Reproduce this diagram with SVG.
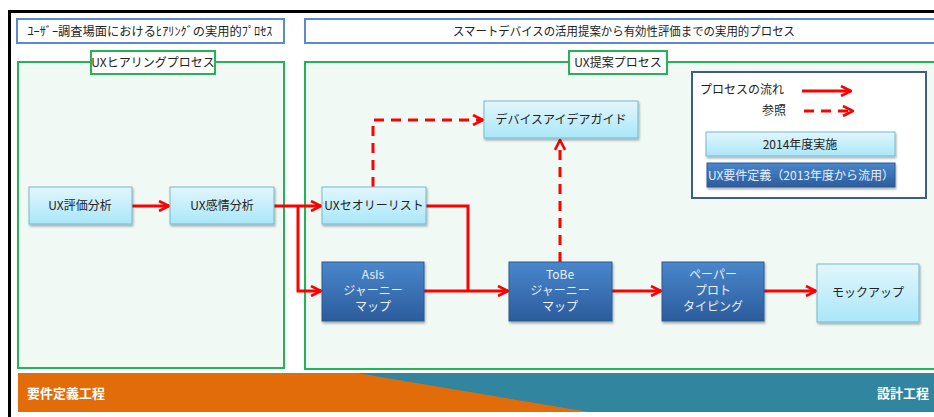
<svg xmlns="http://www.w3.org/2000/svg" width="934" height="417" viewBox="0 0 934 417">
<defs>
<linearGradient id="lb" x1="0" y1="0" x2="0" y2="1"><stop offset="0" stop-color="#e3f6fc"/><stop offset="1" stop-color="#a9e7f9"/></linearGradient>
<linearGradient id="db" x1="0" y1="0" x2="0" y2="1"><stop offset="0" stop-color="#4a87cc"/><stop offset="1" stop-color="#2b5c9c"/></linearGradient>
<filter id="sh" x="-10%" y="-10%" width="130%" height="140%"><feDropShadow dx="1" dy="2" stdDeviation="1.2" flood-color="#000" flood-opacity="0.3"/></filter>
<marker id="ah" viewBox="0 0 12 12" refX="11" refY="6" markerWidth="12" markerHeight="12" markerUnits="userSpaceOnUse" orient="auto"><path d="M1,1 L11,6 L1,11" fill="none" stroke="#ff0000" stroke-width="2.6"/></marker>
</defs>
<style>
text{font-family:"Noto Sans CJK JP","Noto Sans",sans-serif;font-size:12px;fill:#222}
.hdr{fill:#fff;stroke:#5b8ad0;stroke-width:2}
.grp{fill:#f1f9f4;stroke:#22b455;stroke-width:2}
.lbl{fill:#fff;stroke:#22b455;stroke-width:2}
.lb{fill:url(#lb);stroke:#72b9d0;stroke-width:1;filter:url(#sh)}
.db{fill:url(#db);stroke:#2a5a93;stroke-width:1;filter:url(#sh)}
.wt{fill:#e8f0fa}
.flow{fill:none;stroke:#ff0000;stroke-width:3}
.ref{fill:none;stroke:#ff0000;stroke-width:3;stroke-dasharray:10,7}
.band{font-weight:bold;font-size:13px;fill:#fff}
</style>
<rect x="0" y="0" width="934" height="417" fill="#fff"/>
<path d="M9.5,417 V11.5 H934" fill="none" stroke="#000" stroke-width="3"/>

<g id="header-left"><rect class="hdr" x="17" y="19" width="267" height="24"/><text x="150" y="35.5" text-anchor="middle" textLength="245" lengthAdjust="spacingAndGlyphs">ﾕｰｻﾞｰ調査場面におけるﾋｱﾘﾝｸﾞの実用的ﾌﾟﾛｾｽ</text></g>
<g id="header-right"><rect class="hdr" x="305" y="19" width="640" height="24"/><text x="624" y="35.5" text-anchor="middle" textLength="342" lengthAdjust="spacingAndGlyphs" font-size="11.5">スマートデバイスの活用提案から有効性評価までの実用的プロセス</text></g>

<g id="group-hearing"><rect class="grp" x="18" y="62" width="266" height="306"/><rect class="lbl" x="91" y="51" width="124" height="23"/><text x="153" y="67" text-anchor="middle">UXヒアリングプロセス</text></g>
<g id="group-proposal"><rect class="grp" x="305" y="62" width="640" height="307"/><rect class="lbl" x="569" y="51" width="98" height="23"/><text x="618" y="67" text-anchor="middle">UX提案プロセス</text></g>

<g id="legend">
<rect x="692" y="72" width="234" height="126" fill="#fff" stroke="#3d5b8c" stroke-width="2"/>
<text x="700" y="94">プロセスの流れ</text>
<text x="762" y="115">参照</text>
<path class="flow" d="M802,91 H851" marker-end="url(#ah)"/>
<path class="ref" d="M804,111 H853" stroke-dasharray="12,8" marker-end="url(#ah)"/>
<rect class="lb" x="706" y="132" width="189" height="24"/><text x="800" y="148.5" text-anchor="middle">2014年度実施</text>
<rect class="db" x="707" y="163" width="188" height="24"/><text class="wt" x="801" y="179.5" text-anchor="middle">UX要件定義（2013年度から流用）</text>
</g>

<g id="connectors">
<path class="flow" d="M132,206 H169" marker-end="url(#ah)"/>
<path class="flow" d="M274,206 H321" marker-end="url(#ah)"/>
<path class="flow" d="M298,206 V291 H321" marker-end="url(#ah)"/>
<path class="flow" d="M426,206 H468 V291"/>
<path class="flow" d="M424,291 H508" marker-end="url(#ah)"/>
<path class="flow" d="M612,291 H661" marker-end="url(#ah)"/>
<path class="flow" d="M764,291 H816" marker-end="url(#ah)"/>
<path class="ref" d="M373,187 V120 H483" marker-end="url(#ah)"/>
<path class="ref" d="M560,262 V140" marker-end="url(#ah)"/>
</g>

<g id="n-eval"><rect class="lb" x="29" y="187" width="103" height="37"/><text x="80" y="210" text-anchor="middle">UX評価分析</text></g>
<g id="n-emotion"><rect class="lb" x="170" y="187" width="104" height="37"/><text x="222" y="210" text-anchor="middle">UX感情分析</text></g>
<g id="n-theory"><rect class="lb" x="322" y="187" width="104" height="37"/><text x="374" y="210" text-anchor="middle">UXセオリーリスト</text></g>
<g id="n-guide"><rect class="lb" x="484" y="101" width="154" height="37"/><text x="561" y="124" text-anchor="middle">デバイスアイデアガイド</text></g>
<g id="n-asis"><rect class="db" x="322" y="262" width="102" height="59"/><text class="wt" x="373" y="279" text-anchor="middle">AsIs</text><text class="wt" x="373" y="295" text-anchor="middle">ジャーニー</text><text class="wt" x="373" y="311" text-anchor="middle">マップ</text></g>
<g id="n-tobe"><rect class="db" x="509" y="262" width="103" height="59"/><text class="wt" x="560" y="279" text-anchor="middle">ToBe</text><text class="wt" x="560" y="295" text-anchor="middle">ジャーニー</text><text class="wt" x="560" y="311" text-anchor="middle">マップ</text></g>
<g id="n-paper"><rect class="db" x="662" y="262" width="102" height="59"/><text class="wt" x="713" y="279" text-anchor="middle">ペーパー</text><text class="wt" x="713" y="295" text-anchor="middle">プロト</text><text class="wt" x="713" y="311" text-anchor="middle">タイピング</text></g>
<g id="n-mock"><rect class="lb" x="817" y="264" width="102" height="58"/><text x="868" y="297" text-anchor="middle">モックアップ</text></g>

<g id="phase-band">
<rect x="18" y="373" width="920" height="39" fill="#31859e"/>
<polygon points="18,373 357,373 589,412 18,412" fill="#e36c0a"/>
<text class="band" x="27" y="398">要件定義工程</text>
<text class="band" x="929" y="398" text-anchor="end">設計工程</text>
</g>
</svg>
